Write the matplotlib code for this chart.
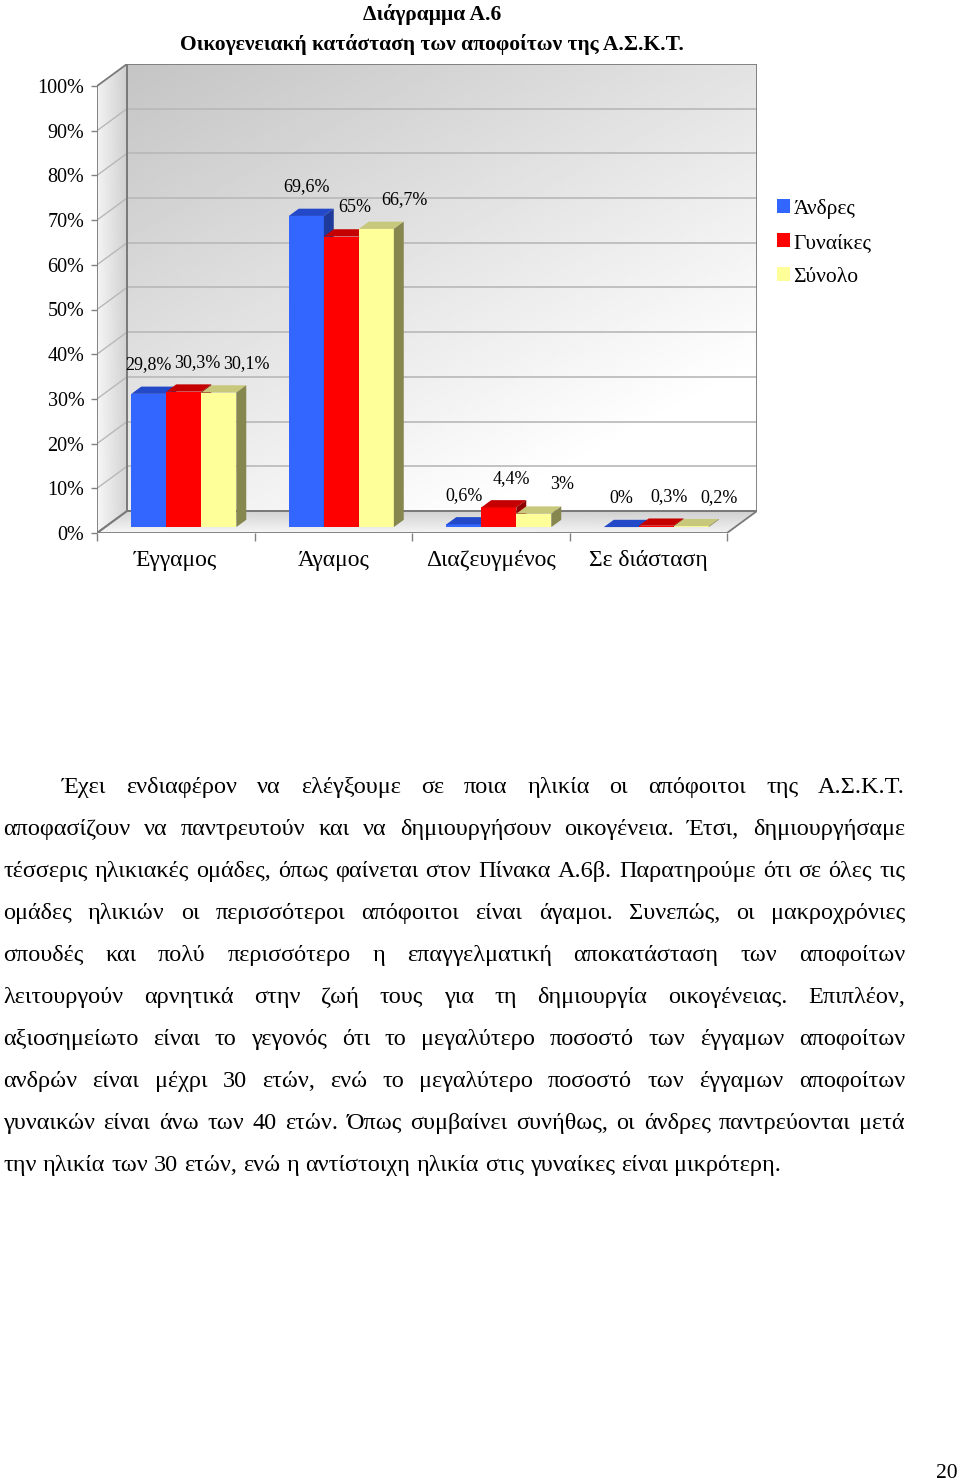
import matplotlib
matplotlib.use('Agg')
import matplotlib.pyplot as plt
import numpy as np
from matplotlib.patches import Polygon, Patch

W, H, DPI = 960, 1483, 100
SERIF = ['Liberation Serif', 'DejaVu Serif']
plt.rcParams['font.family'] = SERIF

# ---------------- data ----------------
categories = ['Έγγαμος', 'Άγαμος', 'Διαζευγμένος', 'Σε διάσταση']
series_names = ['Άνδρες', 'Γυναίκες', 'Σύνολο']
andres = [29.8, 69.6, 0.6, 0.0]
gynaikes = [30.3, 65.0, 4.4, 0.3]
synolo = [30.1, 66.7, 3.0, 0.2]
yticks = [0, 10, 20, 30, 40, 50, 60, 70, 80, 90, 100]
title1 = 'Διάγραμμα Α.6'
title2 = 'Οικογενειακή κατάσταση των αποφοίτων της Α.Σ.Κ.Τ.'
paragraph_lines = [
    'Έχει ενδιαφέρον να ελέγξουμε σε ποια ηλικία οι απόφοιτοι της Α.Σ.Κ.Τ.',
    'αποφασίζουν να παντρευτούν και να δημιουργήσουν οικογένεια. Έτσι, δημιουργήσαμε',
    'τέσσερις ηλικιακές ομάδες, όπως φαίνεται στον Πίνακα Α.6β. Παρατηρούμε ότι σε όλες τις',
    'ομάδες ηλικιών οι περισσότεροι απόφοιτοι είναι άγαμοι. Συνεπώς, οι μακροχρόνιες',
    'σπουδές και πολύ περισσότερο η επαγγελματική αποκατάσταση των αποφοίτων',
    'λειτουργούν αρνητικά στην ζωή τους για τη δημιουργία οικογένειας. Επιπλέον,',
    'αξιοσημείωτο είναι το γεγονός ότι το μεγαλύτερο ποσοστό των έγγαμων αποφοίτων',
    'ανδρών είναι μέχρι 30 ετών, ενώ το μεγαλύτερο ποσοστό των έγγαμων αποφοίτων',
    'γυναικών είναι άνω των 40 ετών. Όπως συμβαίνει συνήθως, οι άνδρες παντρεύονται μετά',
    'την ηλικία των 30 ετών, ενώ η αντίστοιχη ηλικία στις γυναίκες είναι μικρότερη.',
]
page_number = '20'

series = [andres, gynaikes, synolo]
front_colors = ['#3366FF', '#FF0000', '#FFFF99']
top_colors = ['#2348C8', '#C40000', '#C8C87C']
side_colors = ['#1E3A9A', '#8E0000', '#86864F']

fig = plt.figure(figsize=(W / DPI, H / DPI), dpi=DPI)
fig.patch.set_facecolor('white')


def fx(x):
    return x / W


def fy(y):
    return 1 - y / H


# ---------------- chart axes ----------------
ax_l, ax_r, ax_t, ax_b = 97, 757, 64, 533
ax = fig.add_axes([fx(ax_l), fy(ax_b), (ax_r - ax_l) / W, (ax_b - ax_t) / H])
ncat = len(categories)
px_per_cat = 157.5
px_per_pct = 4.47
DX = 30 / px_per_cat
DY = 22 / px_per_pct
ax.set_xlim(0, ncat + DX)
ax.set_ylim(0, 100 + DY)
for s in ax.spines.values():
    s.set_visible(False)
ax.set_facecolor('none')


def gradient_poly(verts, func, z):
    verts = np.array(verts)
    poly = Polygon(verts, closed=True, transform=ax.transData, facecolor='none', edgecolor='none')
    x0, y0 = verts.min(axis=0)
    x1, y1 = verts.max(axis=0)
    xs = np.linspace(0, 1, 200)
    ys = np.linspace(0, 1, 200)
    XX, YY = np.meshgrid(xs, ys)
    Z = np.clip(func(XX, YY), 0, 1)
    im = ax.imshow(Z, cmap='gray', vmin=0, vmax=1, extent=(x0, x1, y0, y1), origin='lower',
                   aspect='auto', interpolation='bilinear', zorder=z)
    ax.add_patch(poly)
    im.set_clip_path(poly)


back = [(DX, DY), (ncat + DX, DY), (ncat + DX, 100 + DY), (DX, 100 + DY)]
left = [(0, 0), (DX, DY), (DX, 100 + DY), (0, 100)]
floor = [(0, 0), (ncat, 0), (ncat + DX, DY), (DX, DY)]

gradient_poly(back, lambda X, Y: 0.77 + 0.12 * X + 0.16 * (1 - Y), 0)
gradient_poly(left, lambda X, Y: 0.95 - 0.14 * X + 0.02 * (1 - Y), 0)
gradient_poly(floor, lambda X, Y: 0.97 - 0.14 * Y - 0.02 * X, 0)

grid_c = '#b8b8b8'
for v in yticks[1:-1]:
    ax.plot([DX, ncat + DX], [v + DY, v + DY], color=grid_c, lw=1.2, zorder=1)
    ax.plot([0, DX], [v, v + DY], color=grid_c, lw=1.0, zorder=1)

edge_c = '#7a7a7a'
for verts in (back, left, floor):
    ax.add_patch(Polygon(verts, closed=True, facecolor='none', edgecolor=edge_c, lw=1.3, zorder=2,
                         joinstyle='miter'))

# ---------------- bars ----------------
f0, f1 = 0.27, 0.60
bw = 2 / 9
sx, sy = f0 * DX, f0 * DY
bdx, bdy = (f1 - f0) * DX, (f1 - f0) * DY
label_dx = [0, 13, 28]
for i in range(ncat):
    for j, vals in enumerate(series):
        v = vals[i]
        x0 = i + 1 / 6 + j * bw + sx
        y0 = sy
        y1 = y0 + v
        z = 3 + i * 3 + j
        ax.add_patch(Polygon([(x0, y0), (x0 + bw, y0), (x0 + bw, y1), (x0, y1)], closed=True,
                             facecolor=front_colors[j], edgecolor='none', zorder=z))
        ax.add_patch(Polygon([(x0, y1), (x0 + bw, y1), (x0 + bw + bdx, y1 + bdy), (x0 + bdx, y1 + bdy)],
                             closed=True, facecolor=top_colors[j], edgecolor='none', zorder=z))
        ax.add_patch(Polygon([(x0 + bw, y0), (x0 + bw + bdx, y0 + bdy), (x0 + bw + bdx, y1 + bdy), (x0 + bw, y1)],
                             closed=True, facecolor=side_colors[j], edgecolor='none', zorder=z))
        lab = ('%g' % v).replace('.', ',') + '%'
        ax.annotate(lab, (x0 + bw / 2, y1), xytext=(label_dx[j], 29), textcoords='offset pixels',
                    ha='center', va='center', fontsize=13, zorder=40, annotation_clip=False)

# ---------------- ticks ----------------
ax.set_yticks(yticks)
ax.set_yticklabels(['%d%%' % v for v in yticks])
ax.tick_params(axis='y', direction='out', length=4, width=1, color='#808080', labelsize=14.5, pad=5)
ax.set_xticks(range(ncat + 1))
ax.set_xticklabels([''] * (ncat + 1))
ax.set_xticks([i + 0.5 for i in range(ncat)], minor=True)
ax.set_xticklabels(categories, minor=True)
ax.tick_params(axis='x', which='major', direction='out', length=6, width=1, color='#808080')
ax.tick_params(axis='x', which='minor', length=0, labelsize=17, pad=12)

# ---------------- legend ----------------
handles = [Patch(facecolor=c, edgecolor='none') for c in front_colors]
fig.legend(handles, series_names, loc='upper left', bbox_to_anchor=(fx(777), fy(199)),
           frameon=False, fontsize=15.5, handlelength=0.62, handleheight=0.62, handletextpad=0.15,
           labelspacing=0.66, borderaxespad=0, borderpad=0)

# ---------------- titles ----------------
fig.text(fx(432), fy(20), title1, ha='center', va='baseline', fontsize=15.5, fontweight='bold',
         family=SERIF)
fig.text(fx(432), fy(50), title2, ha='center', va='baseline', fontsize=15.5, fontweight='bold',
         family=SERIF)

# ---------------- paragraph (justified) ----------------
renderer = fig.canvas.get_renderer()


def text_width(s, size):
    t = fig.text(0, 0, s, fontsize=size, family=SERIF)
    w = t.get_window_extent(renderer).width
    t.remove()
    return w


right_edge = 905
starts = [62] + [3] * (len(paragraph_lines) - 1)
base = 15
ratios = []
for k, line in enumerate(paragraph_lines[:-1]):
    ratios.append(text_width(line, base) / (right_edge - starts[k]))
psize = base / max(ratios) * 0.99
baseline0, lstep = 793, 42
space_w = text_width('a a', psize) - text_width('aa', psize)
for k, line in enumerate(paragraph_lines):
    words = line.split(' ')
    wws = [text_width(w, psize) for w in words]
    y = baseline0 + k * lstep
    if k < len(paragraph_lines) - 1:
        gap = (right_edge - starts[k] - sum(wws)) / (len(words) - 1)
    else:
        gap = space_w
    x = starts[k]
    for w, ww in zip(words, wws):
        fig.text(fx(x), fy(y), w, fontsize=psize, family=SERIF, ha='left', va='baseline')
        x += ww + gap

fig.text(fx(958), fy(1478), page_number, ha='right', va='baseline', fontsize=15.5, family=SERIF)

fig.savefig('out.png', dpi=DPI, facecolor='white')
